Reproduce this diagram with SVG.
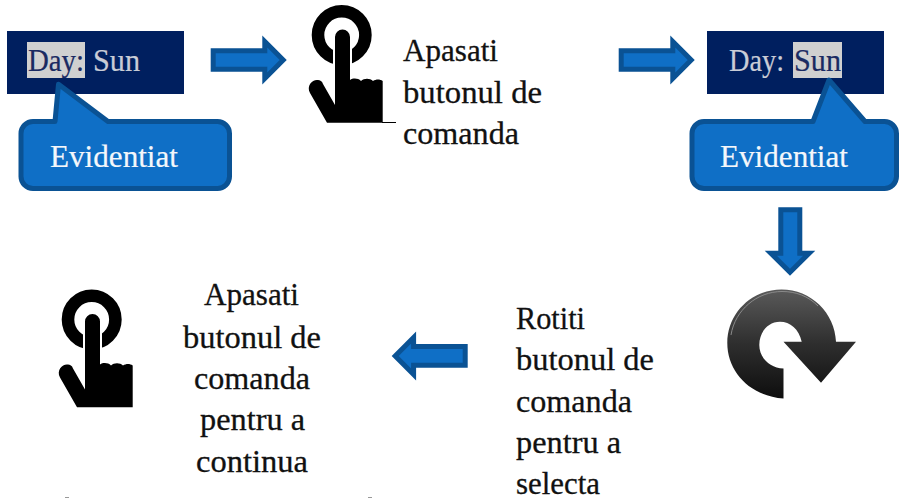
<svg xmlns="http://www.w3.org/2000/svg" width="899" height="498" viewBox="0 0 899 498">
<style>
text{font-family:"Liberation Serif","Times New Roman",serif;font-size:32px}
.b{fill:#111;stroke:#111;stroke-width:.3}
.day{fill:#c9ccd6;stroke:#c9ccd6;stroke-width:.2}
.hl{fill:#1a2a62;stroke:#1a2a62;stroke-width:.2}
.w{fill:#f4f7fb;stroke:#f4f7fb;stroke-width:.2}
.bar{fill:#001f5f}
.mark{fill:#d0d0d0}
.blue{fill:#0f6fc6;stroke:#0a5294;stroke-width:5;stroke-linejoin:miter;stroke-miterlimit:10}
.call{fill:#0f6fc6;stroke:#0a5294;stroke-width:5;stroke-linejoin:round}
.speck{fill:#999}
</style>
<defs>
<linearGradient id="g" x1="0" y1="0" x2="0" y2="1"><stop offset="0" stop-color="#5a5a5a"/><stop offset=".5" stop-color="#2e2e2e"/><stop offset="1" stop-color="#0e0e0e"/></linearGradient>
<g id="hand">
<circle cx="341.7" cy="35" r="23.7" fill="none" stroke="#000" stroke-width="12.6"/>
<rect x="333" y="33" width="19" height="36" fill="#fff"/>
<path d="M335 37a7.5 7.5 0 0 1 15 0V80C353 78 358 78 361 81C364 78 370 78 373 81C376 79 380 79 382.7 81V122.7H327L310 93C306 85 313 79 318 80C320 80 322 81 323 84L335 105Z" fill="#000"/>
</g>
</defs>
<g id="connectors">
<path class="blue" d="M213.2 50.8H264.8V41.6L283.2 60L264.8 78.4V69.2H213.2Z"/>
<path class="blue" d="M621.2 50.8H672.8V41.6L691.2 60L672.8 78.4V69.2H621.2Z"/>
<path class="blue" d="M780.8 209.8H799.8V253.2H809.2L790 272.2L770.8 253.2H780.8Z"/>
<path class="blue" d="M465.2 346.5V365.2H413.6V374.4L395.2 356L413.6 337.6V346.5Z"/>
</g>
<g id="node-day-1">
<rect class="bar" x="7" y="31" width="177" height="63"/>
<rect class="mark" x="27" y="42" width="58" height="36"/>
<text class="hl" x="28" y="70.5" textLength="56" lengthAdjust="spacingAndGlyphs">Day:</text>
<text class="day" x="93" y="70.5" textLength="47" lengthAdjust="spacingAndGlyphs">Sun</text>
</g>
<g id="node-callout-1">
<path class="call" d="M33 121.5H55L58.5 84.3L108 121.5H217A12 12 0 0 1 229.5 133.5V176.5A12 12 0 0 1 217 188.5H33A12 12 0 0 1 21 176.5V133.5A12 12 0 0 1 33 121.5Z"/>
<text class="w" x="50" y="166.5" textLength="128" lengthAdjust="spacingAndGlyphs">Evidentiat</text>
</g>
<g id="node-press-1">
<use href="#hand"/>
<rect x="382" y="122" width="14" height="1" fill="#000"/>
<text class="b" x="403" y="61" textLength="95" lengthAdjust="spacingAndGlyphs">Apasati</text>
<text class="b" x="403" y="102.7" textLength="139" lengthAdjust="spacingAndGlyphs">butonul de</text>
<text class="b" x="403" y="144" textLength="116" lengthAdjust="spacingAndGlyphs">comanda</text>
</g>
<g id="node-day-2">
<rect class="bar" x="707" y="31" width="177" height="63"/>
<rect class="mark" x="793" y="42" width="49" height="36"/>
<text class="day" x="729" y="70.5" textLength="55" lengthAdjust="spacingAndGlyphs">Day:</text>
<text class="hl" x="794" y="70.5" textLength="47" lengthAdjust="spacingAndGlyphs">Sun</text>
</g>
<g id="node-callout-2">
<path class="call" d="M704 121.5H813L829 80L865 121.5H884A12 12 0 0 1 896.5 133.5V176.5A12 12 0 0 1 884 188.5H704A12 12 0 0 1 692 176.5V133.5A12 12 0 0 1 704 121.5Z"/>
<text class="w" x="720" y="166.5" textLength="128" lengthAdjust="spacingAndGlyphs">Evidentiat</text>
</g>
<g id="node-rotate">
<path fill="url(#g)" d="M783.5 398.5C750 396 727.3 372 727.3 343C727.3 313 752 289.5 781.5 289.5C811 289.5 835 313 836 341.7H856L821 382.7L783.5 341.7H801.7C799 329 790 321.7 780 321.7C768 321.7 759.3 332 759.3 345C759.3 358 770 368 783.5 368.5Z"/>
<path d="M731 335C735 310 757 291.5 782 291.5C796 291.5 808 296 818 306" fill="none" stroke="#8a8a8a" stroke-width="1"/>
</g>
<g id="node-turn-text">
<text class="b" x="516" y="329" textLength="69" lengthAdjust="spacingAndGlyphs">Rotiti</text>
<text class="b" x="516" y="370.3" textLength="138" lengthAdjust="spacingAndGlyphs">butonul de</text>
<text class="b" x="516" y="411.5" textLength="116" lengthAdjust="spacingAndGlyphs">comanda</text>
<text class="b" x="516" y="452.7" textLength="105" lengthAdjust="spacingAndGlyphs">pentru a</text>
<text class="b" x="516" y="494" textLength="84" lengthAdjust="spacingAndGlyphs">selecta</text>
</g>
<g id="node-press-2">
<use href="#hand" transform="translate(-250 284.5)"/>
<text class="b" x="204" y="305" textLength="95" lengthAdjust="spacingAndGlyphs">Apasati</text>
<text class="b" x="183" y="347.5" textLength="138" lengthAdjust="spacingAndGlyphs">butonul de</text>
<text class="b" x="194" y="389" textLength="116" lengthAdjust="spacingAndGlyphs">comanda</text>
<text class="b" x="200" y="430" textLength="105" lengthAdjust="spacingAndGlyphs">pentru a</text>
<text class="b" x="196" y="471.5" textLength="112" lengthAdjust="spacingAndGlyphs">continua</text>
</g>
<rect class="speck" x="65" y="497" width="4" height="1"/>
<rect class="speck" x="368" y="497" width="4" height="1"/>
</svg>
